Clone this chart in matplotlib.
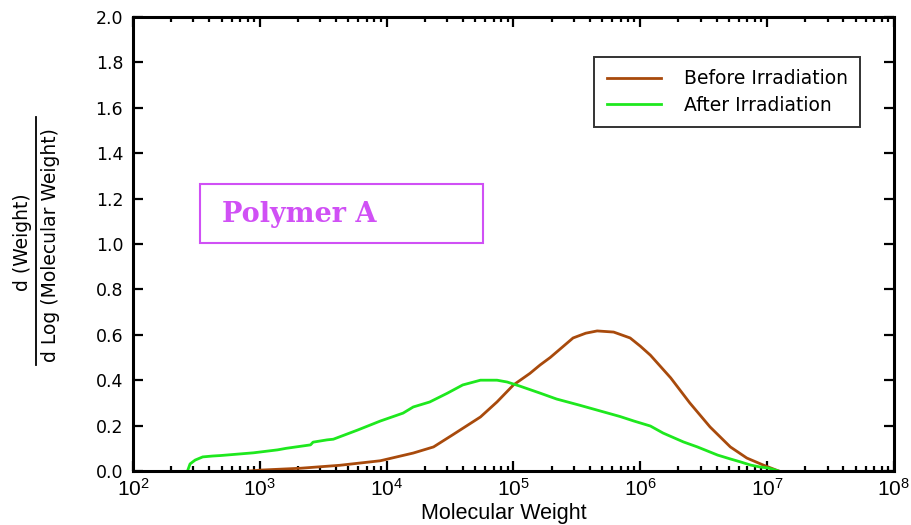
import numpy as np
import matplotlib
import matplotlib.pyplot as plt
from matplotlib.patches import Rectangle
from matplotlib.lines import Line2D
from matplotlib.ticker import LogLocator, NullFormatter

matplotlib.use("Agg")

before_logmw = [2.92, 3.01, 3.32, 3.63, 3.95, 4.21, 4.37, 4.52, 4.74, 4.87,
                5.00, 5.13, 5.21, 5.29, 5.47, 5.57, 5.66, 5.79, 5.92, 6.00,
                6.08, 6.24, 6.39, 6.55, 6.71, 6.84, 6.97, 7.09]
before_w = [0.0, 0.004, 0.012, 0.025, 0.045, 0.079, 0.106, 0.159, 0.238, 0.304,
            0.379, 0.43, 0.467, 0.50, 0.586, 0.607, 0.617, 0.612, 0.586, 0.55,
            0.51, 0.41, 0.30, 0.194, 0.106, 0.057, 0.026, 0.0]

after_logmw = [2.43, 2.45, 2.49, 2.55, 2.63, 2.69, 2.95, 3.14, 3.21, 3.40,
               3.42, 3.53, 3.58, 3.77, 3.95, 4.13, 4.21, 4.34, 4.48, 4.60,
               4.74, 4.87, 4.95, 5.05, 5.21, 5.34, 5.52, 5.68, 5.84, 5.95,
               6.08, 6.18, 6.34, 6.45, 6.61, 6.71, 6.79, 6.87, 6.94, 7.01,
               7.09]
after_w = [0.0, 0.031, 0.048, 0.062, 0.066, 0.068, 0.08, 0.093, 0.10, 0.115,
           0.127, 0.137, 0.14, 0.18, 0.22, 0.255, 0.282, 0.304, 0.343, 0.379,
           0.40, 0.40, 0.392, 0.374, 0.343, 0.317, 0.29, 0.265, 0.24, 0.22,
           0.198, 0.167, 0.128, 0.106, 0.07, 0.053, 0.04, 0.026, 0.018, 0.013,
           0.0]

x_decades = [2, 3, 4, 5, 6, 7, 8]
y_ticks = [0.0, 0.2, 0.4, 0.6, 0.8, 1.0, 1.2, 1.4, 1.6, 1.8, 2.0]

brown = "#a84a0c"
green = "#1ee81e"
magenta = "#d050f5"

fig = plt.figure(figsize=(9.12, 5.25), dpi=100)
ax = fig.add_axes([0.1458, 0.1029, 0.8344, 0.8647])

ax.plot(10 ** np.array(before_logmw), before_w, color=brown, lw=2.0,
        label="Before Irradiation")
ax.plot(10 ** np.array(after_logmw), after_w, color=green, lw=2.0,
        label="After Irradiation")

ax.set_xscale("log")
ax.set_xlim(1e2, 1e8)
ax.set_ylim(0, 2.0)

ax.set_xticks([10.0 ** k for k in x_decades])
ax.set_xticklabels([f"$\\mathregular{{10^{{{k}}}}}$" for k in x_decades],
                   fontfamily="Liberation Sans", fontsize=15)
ax.xaxis.set_minor_locator(LogLocator(base=10, subs=range(2, 10), numticks=20))
ax.xaxis.set_minor_formatter(NullFormatter())
ax.set_yticks(y_ticks)
ax.set_yticklabels([f"{v:.1f}" for v in y_ticks], fontsize=12.5)

ax.tick_params(which="both", direction="in", top=True, right=True, width=1.6)
ax.tick_params(which="major", length=7.5)
ax.tick_params(which="minor", length=3.5)
ax.tick_params(axis="x", which="major", pad=5)
ax.tick_params(axis="y", which="major", pad=7)
for s in ax.spines.values():
    s.set_linewidth(2.2)

# x label, slightly left of centre like the original
fig.text(0.552, 0.012, "Molecular Weight", ha="center", va="baseline",
         fontfamily="Liberation Sans", fontsize=15.5)

# y label as a fraction
fig.text(0.025, 0.539, "d (Weight)", rotation=90, ha="center", va="center",
         fontsize=13.5)
fig.text(0.055, 0.533, "d Log (Molecular Weight)", rotation=90, ha="center",
         va="center", fontsize=13.5)
fig.add_artist(Line2D([0.0395, 0.0395], [0.305, 0.777], color="k", lw=1.3,
                      transform=fig.transFigure))

leg = ax.legend(loc="upper right", bbox_to_anchor=(0.955, 0.912),
                fontsize=13.5, frameon=True, fancybox=False, handlelength=2.9,
                borderpad=0.65, labelspacing=0.4, handletextpad=1.2,
                borderaxespad=0)
leg.get_frame().set_edgecolor("k")
leg.get_frame().set_linewidth(1.4)

# "Polymer A" boxed label
ax.add_patch(Rectangle((0.088, 0.502), 0.372, 0.130, transform=ax.transAxes,
                       fill=False, edgecolor=magenta, lw=1.5))
ax.text(0.117, 0.566, "Polymer A", transform=ax.transAxes, ha="left",
        va="center", color=magenta, fontsize=19.5, fontweight="bold",
        fontfamily="DejaVu Serif")

plt.savefig("out.png", dpi=100)
